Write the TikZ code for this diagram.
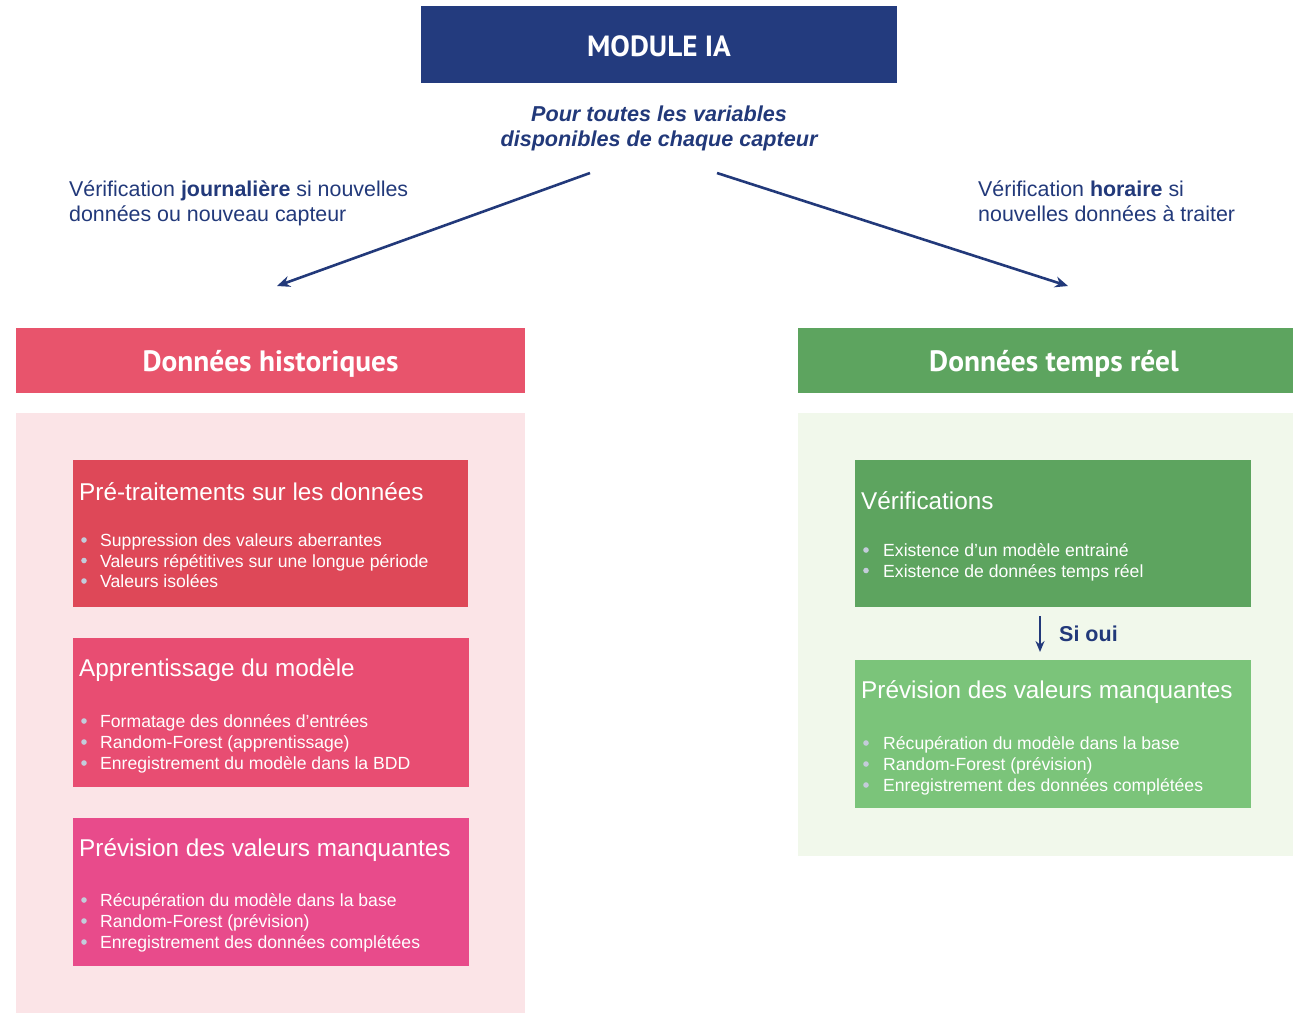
\documentclass[tikz,border=0pt]{standalone}
\usepackage{fontspec}
\setmainfont{Liberation Sans}
\newfontfamily\headfont{PT Sans}
\usetikzlibrary{arrows.meta}
\definecolor{navy}{HTML}{233B7E}
\definecolor{txtblue}{HTML}{22397A}
\definecolor{histhead}{HTML}{E8546C}
\definecolor{histpanel}{HTML}{FBE4E7}
\definecolor{boxA}{HTML}{DE4858}
\definecolor{boxB}{HTML}{E84D72}
\definecolor{boxC}{HTML}{E84B8B}
\definecolor{rthead}{HTML}{5DA45F}
\definecolor{rtpanel}{HTML}{F1F8EB}
\definecolor{boxV}{HTML}{5DA45F}
\definecolor{boxP}{HTML}{7BC47A}
\definecolor{dotc}{HTML}{C4CCDA}
\tikzset{
  headtxt/.style={text=white, font=\headfont\bfseries\fontsize{29.4}{33}\selectfont, inner sep=0pt},
  boxtitle/.style={anchor=base west, text=white, font=\fontsize{24.3}{28}\selectfont, inner sep=0pt},
  item/.style={anchor=base west, text=white, font=\fontsize{17.6}{21}\selectfont, inner sep=0pt},
  lbl/.style={anchor=north west, text=txtblue, font=\fontsize{21.4}{25}\selectfont, inner sep=0pt, align=left},
  arr/.style={draw=txtblue, line width=2.6pt, -{Stealth[length=13pt,width=11pt]}},
  bdot/.style={fill=dotc, draw=none}
}
\begin{document}
\begin{tikzpicture}[x=1pt,y=-1pt]
\useasboundingbox (0,0) rectangle (1293,1013);
\fill[white] (0,0) rectangle (1293,1013);

% top
\fill[navy] (421,6) rectangle (897,83);
\node[headtxt, font=\headfont\bfseries\fontsize{29.2}{33}\selectfont] (module) at (659,46) {MODULE IA};
\node[text=txtblue, font=\bfseries\itshape\fontsize{21.6}{25}\selectfont, align=center, inner sep=0pt] (pour) at (659,128) {Pour toutes les variables\\disponibles de chaque capteur};
\coordinate (ls) at (590,173);
\coordinate (le) at (277,286);
\coordinate (rs) at (717,173);
\coordinate (re) at (1068,286);
\draw[arr] (ls) -- (le);
\draw[arr] (rs) -- (re);
\node[lbl] (lblL) at (69,181) {V\'erification \textbf{journali\`ere} si nouvelles\\donn\'ees ou nouveau capteur};
\node[lbl] (lblR) at (978,181) {V\'erification \textbf{horaire} si\\nouvelles donn\'ees \`a traiter};

% left column
\fill[histhead] (16,328) rectangle (525,393);
\node[headtxt] (hh) at (270.5,364) {Donn\'ees historiques};
\fill[histpanel] (16,413) rectangle (525,1013);

\fill[boxA] (73,460) rectangle (468,607);
\node[boxtitle] (tA) at (79,500) {Pr\'e-traitements sur les donn\'ees};
\foreach \yy/\tt [count=\i] in {540/{Suppression des valeurs aberrantes},560.5/{Valeurs r\'ep\'etitives sur une longue p\'eriode},581/{Valeurs isol\'ees}}{
  \fill[bdot] (84,\yy) circle (2.8pt);
  \node[item] (iA\i) at (100,\yy+6.5) {\tt};
}

\fill[boxB] (73,638) rectangle (469,787);
\node[boxtitle] (tB) at (79,676) {Apprentissage du mod\`ele};
\foreach \yy/\tt [count=\i] in {721/{Formatage des donn\'ees d'entr\'ees},742/{Random-Forest (apprentissage)},763/{Enregistrement du mod\`ele dans la BDD}}{
  \fill[bdot] (84,\yy) circle (2.8pt);
  \node[item] (iB\i) at (100,\yy+6.5) {\tt};
}

\fill[boxC] (73,818) rectangle (469,966);
\node[boxtitle] (tC) at (79,856) {Pr\'evision des valeurs manquantes};
\foreach \yy/\tt [count=\i] in {900/{R\'ecup\'eration du mod\`ele dans la base},921/{Random-Forest (pr\'evision)},942/{Enregistrement des donn\'ees compl\'et\'ees}}{
  \fill[bdot] (84,\yy) circle (2.8pt);
  \node[item] (iC\i) at (100,\yy+6.5) {\tt};
}

% right column
\fill[rthead] (798,328) rectangle (1293,393);
\node[headtxt] (rh) at (1054,364) {Donn\'ees temps r\'eel};
\fill[rtpanel] (798,413) rectangle (1293,856);

\fill[boxV] (855,460) rectangle (1251,607);
\node[boxtitle] (tV) at (861,509) {V\'erifications};
\foreach \yy/\tt [count=\i] in {550/{Existence d'un mod\`ele entrain\'e},570.5/{Existence de donn\'ees temps r\'eel}}{
  \fill[bdot] (866,\yy) circle (2.8pt);
  \node[item] (iV\i) at (883,\yy+6.5) {\tt};
}

\coordinate (sa) at (1040,616);
\coordinate (sb) at (1040,652);
\draw[draw=txtblue, line width=2.2pt, -{Stealth[length=11pt,width=9pt]}] (sa) -- (sb);
\node[anchor=west, text=txtblue, font=\bfseries\fontsize{21.5}{25}\selectfont, inner sep=0pt] (sioui) at (1059,634) {Si oui};

\fill[boxP] (855,660) rectangle (1251,808);
\node[boxtitle] (tP) at (861,698) {Pr\'evision des valeurs manquantes};
\foreach \yy/\tt [count=\i] in {743/{R\'ecup\'eration du mod\`ele dans la base},764/{Random-Forest (pr\'evision)},785/{Enregistrement des donn\'ees compl\'et\'ees}}{
  \fill[bdot] (866,\yy) circle (2.8pt);
  \node[item] (iP\i) at (883,\yy+6.5) {\tt};
}
\end{tikzpicture}
\end{document}
